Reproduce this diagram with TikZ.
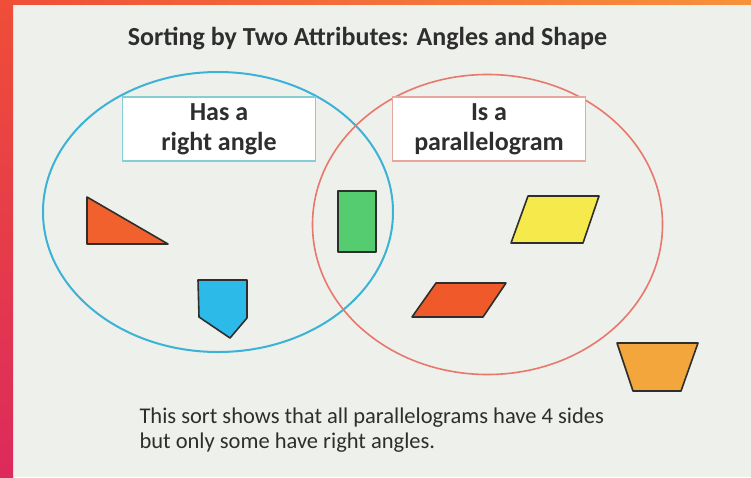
\documentclass[tikz,border=0pt]{standalone}
\usepackage{fontspec}
\setmainfont{Carlito}
\definecolor{paper}{HTML}{EEF0EB}
\definecolor{ringblue}{HTML}{3BB2D6}
\definecolor{ringred}{HTML}{E8786C}
\definecolor{tagblue}{HTML}{86CDD8}
\definecolor{tagred}{HTML}{E8A69C}
\definecolor{ink}{HTML}{2E2E2E}
\definecolor{triorange}{HTML}{F0612E}
\definecolor{pentblue}{HTML}{2CBBE8}
\definecolor{rectgreen}{HTML}{56CC70}
\definecolor{parayellow}{HTML}{F5E94C}
\definecolor{paraorange}{HTML}{F05A2A}
\definecolor{trapamber}{HTML}{F3A63C}
\definecolor{edgetop}{HTML}{EF4E38}
\definecolor{edgebottom}{HTML}{DC2A5C}
\definecolor{barright}{HTML}{F7923A}
\begin{document}
\begin{tikzpicture}[x=1pt,y=-1pt,
  every node/.style={font=\fontsize{22.5}{25}\selectfont,text=ink},
  tag/.style={draw,fill=white,line width=1.2pt,minimum width=193pt,minimum height=64pt,align=center,font=\bfseries\fontsize{26}{30}\selectfont},
  piece/.style={draw=ink,line width=1.6pt,line join=round}]
  % page and frame
  \fill[paper] (0,0) rectangle (751,477);
  \shade[top color=edgetop,bottom color=edgebottom] (0,0) rectangle (13,477);
  \shade[left color=edgetop,right color=barright] (0,0) rectangle (751,4);
  % title
  \node[anchor=base,font=\bfseries\fontsize{26}{30}\selectfont] (title) at (367.5,45) {Sorting by Two Attributes: Angles and Shape};
  % the two rings
  \draw[ringblue,line width=2pt] (218,212) ellipse (175 and 140);
  \draw[ringred,line width=1.6pt] (487.5,224.5) ellipse (175 and 150);
  \node[tag,draw=tagblue] (right) at (219,129) {Has a\\right angle};
  \node[tag,draw=tagred] (para) at (489,129) {Is a\\parallelogram};
  % shapes
  \draw[piece,fill=triorange] (87,197) -- (87,244) -- (168,244) -- cycle;
  \draw[piece,fill=pentblue] (198,280) -- (247,280) -- (247,318) -- (230,338) -- (199,317) -- cycle;
  \draw[piece,fill=rectgreen] (338,191) rectangle (376,252);
  \draw[piece,fill=parayellow] (528,196) -- (599,196) -- (583,243) -- (511,243) -- cycle;
  \draw[piece,fill=paraorange] (436,283) -- (506,283) -- (483,317) -- (412,317) -- cycle;
  \draw[piece,fill=trapamber] (617,343) -- (698,343) -- (681,391) -- (633,391) -- cycle;
  % caption
  \node[anchor=base west,align=left] (note) at (136,448) {This sort shows that all parallelograms have 4 sides\\but only some have right angles.};
\end{tikzpicture}
\end{document}
